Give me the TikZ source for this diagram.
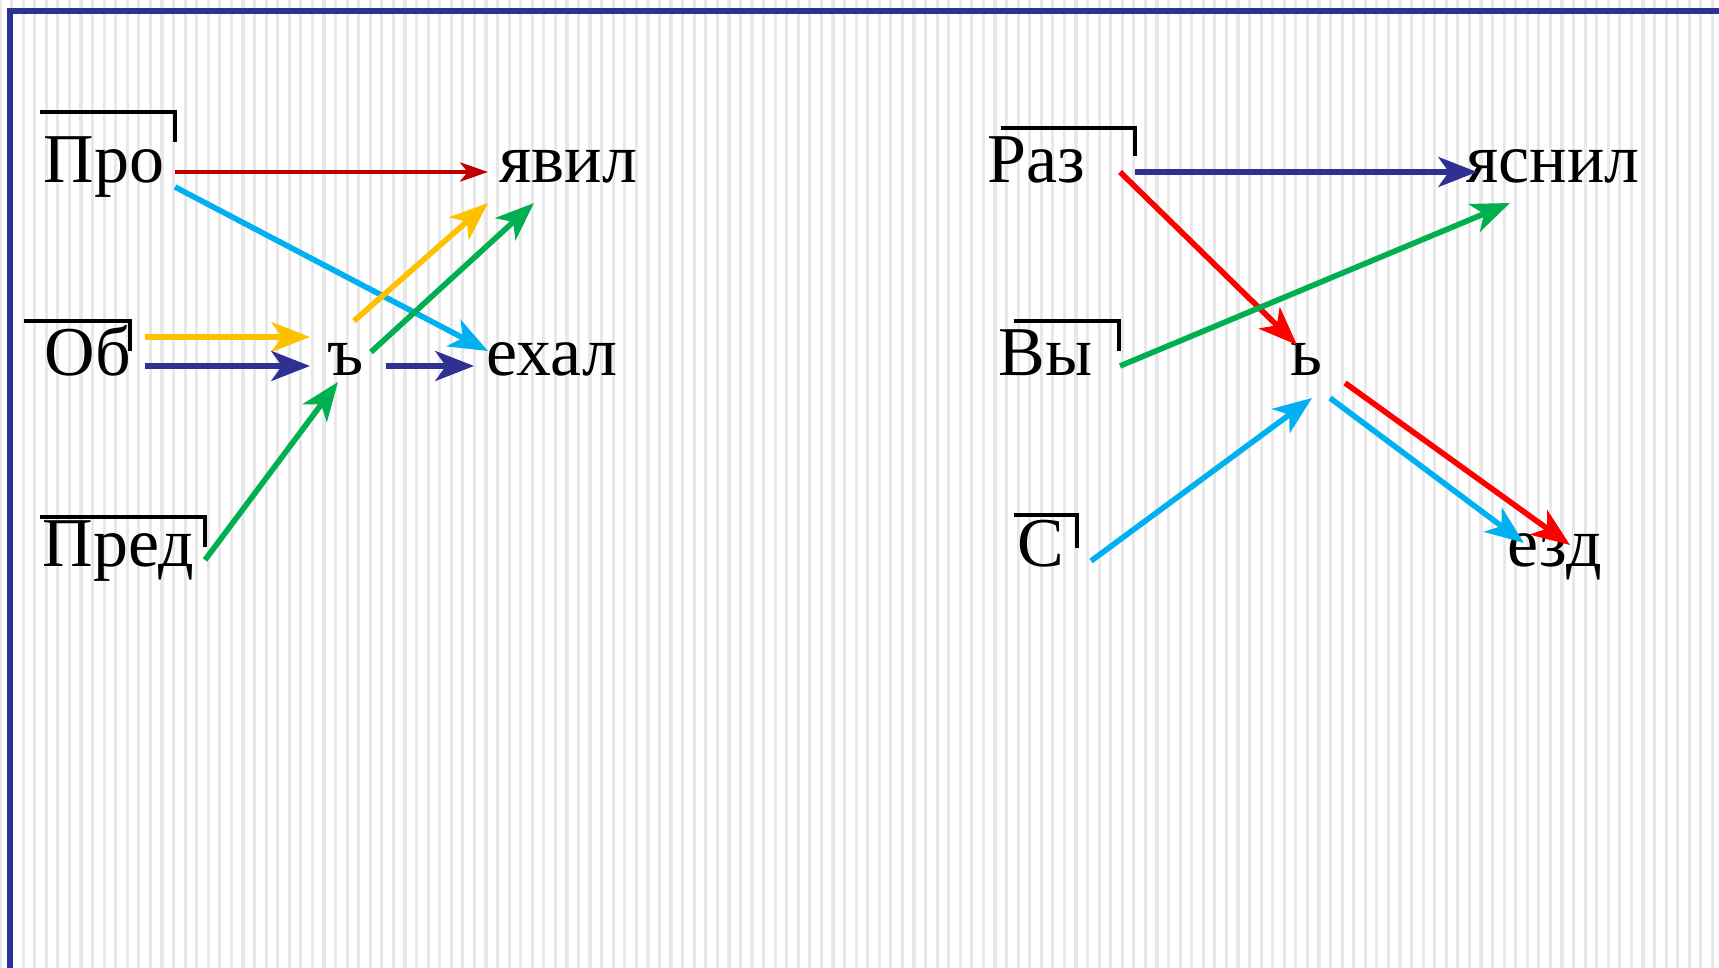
\documentclass[tikz,border=0pt]{standalone}
\usepackage{fontspec}
\setmainfont{Liberation Serif}
\usetikzlibrary{arrows.meta}
\definecolor{FrameBlue}{HTML}{2B3393}
\definecolor{StripeGray}{HTML}{E8E8E8}
\definecolor{LinkBlue}{HTML}{2E3192}
\definecolor{LinkDarkRed}{HTML}{C00000}
\definecolor{LinkRed}{HTML}{FF0000}
\definecolor{LinkCyan}{HTML}{00B0F0}
\definecolor{LinkYellow}{HTML}{FFC000}
\definecolor{LinkGreen}{HTML}{00B050}

\begin{document}
\begin{tikzpicture}[x=0.01cm,y=-0.01cm,
  every node/.style={font=\fontsize{19.9pt}{24pt}\selectfont, anchor=base west, inner sep=0pt},
  prefixmark/.style={black, line width=1pt},
  link/.style={line width=1.6pt, -{Stealth[length=11pt,width=8.5pt,inset=3pt]}},
  thinlink/.style={line width=1pt, -{Stealth[length=8pt,width=5.5pt,inset=2.2pt]}}]
  \useasboundingbox (0,0) rectangle (1719,968);
  \fill[white] (0,0) rectangle (1719,968);
  \foreach \k in {0,...,148} {
    \draw[StripeGray, line width=0.9pt] (\k*11.57,0) -- (\k*11.57,968);
  }
  \draw[FrameBlue, line width=1.7pt] (10,968) -- (10,11) -- (1719,11);

  % left word: prefixes, root
  \node (pro) at (43,183) {Про};
  \node (yavil) at (499,183) {явил};
  \node (ob) at (44,376) {Об};
  \node (hard) at (327,376) {ъ};
  \node (ehal) at (486,376) {ехал};
  \node (pred) at (42,567) {Пред};
  \draw[prefixmark] (40,112) -- (175,112) -- (175,142);
  \draw[prefixmark] (24,321) -- (130,321) -- (130,351);
  \draw[prefixmark] (40,517) -- (205,517) -- (205,547);

  \draw[thinlink, LinkDarkRed] ([shift={(132,-11)}]pro.base west) -- ([shift={(-11,-11)}]yavil.base west);
  \draw[link, LinkCyan] ([shift={(132,4)}]pro.base west) -- ([shift={(2,-25)}]ehal.base west);
  \draw[link, LinkYellow] ([shift={(101,-39)}]ob.base west) -- ([shift={(-17,-39)}]hard.base west);
  \draw[link, LinkBlue] ([shift={(101,-10)}]ob.base west) -- ([shift={(-17,-10)}]hard.base west);
  \draw[link, LinkBlue] ([shift={(59,-10)}]hard.base west) -- ([shift={(-12,-10)}]ehal.base west);
  \draw[link, LinkYellow] ([shift={(27,-55)}]hard.base west) -- ([shift={(-11,20)}]yavil.base west);
  \draw[link, LinkGreen] ([shift={(44,-24)}]hard.base west) -- ([shift={(35,20)}]yavil.base west);
  \draw[link, LinkGreen] ([shift={(163,-7)}]pred.base west) -- ([shift={(11,6)}]hard.base west);

  % right word
  \node (raz) at (987,183) {Раз};
  \node (yasnil) at (1466,183) {яснил};
  \node (vy) at (998,376) {Вы};
  \node (soft) at (1290,376) {ь};
  \node (s) at (1017,567) {С};
  \node (ezd) at (1507,567) {езд};
  \draw[prefixmark] (1001,128) -- (1135,128) -- (1135,156);
  \draw[prefixmark] (1014,321) -- (1119,321) -- (1119,351);
  \draw[prefixmark] (1014,515) -- (1077,515) -- (1077,548);

  \draw[link, LinkBlue] ([shift={(148,-11)}]raz.base west) -- ([shift={(11,-11)}]yasnil.base west);
  \draw[link, LinkRed] ([shift={(133,-11)}]raz.base west) -- ([shift={(7,-31)}]soft.base west);
  \draw[link, LinkGreen] ([shift={(122,-10)}]vy.base west) -- ([shift={(44,20)}]yasnil.base west);
  \draw[link, LinkCyan] ([shift={(74,-6)}]s.base west) -- ([shift={(22,22)}]soft.base west);
  \draw[link, LinkCyan] ([shift={(40,22)}]soft.base west) -- ([shift={(17,-24)}]ezd.base west);
  \draw[link, LinkRed] ([shift={(55,7)}]soft.base west) -- ([shift={(63,-22)}]ezd.base west);
\end{tikzpicture}
\end{document}
